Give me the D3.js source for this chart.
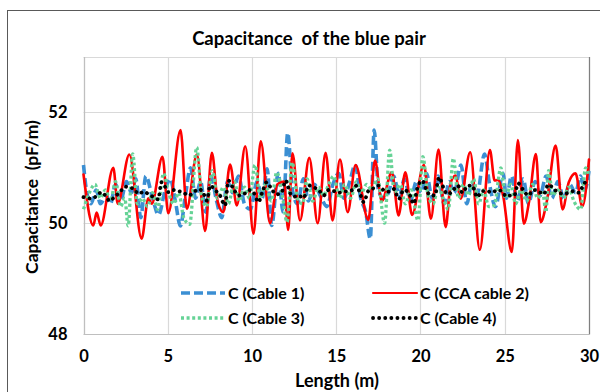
<!DOCTYPE html>
<html><head><meta charset="utf-8">
<script src="https://cdn.jsdelivr.net/npm/d3@7"></script>
<style>
html,body{margin:0;padding:0;background:#fff;}
text{font-family:Lato,"Open Sans",sans-serif;font-weight:bold;fill:#000;white-space:pre;}
</style></head>
<body>
<svg id="c" width="600" height="392"></svg>
<script>
const titleText = "Capacitance  of the blue pair";
const yTitle = "Capacitance  (pF/m)";
const xTitle = "Length (m)";
const xTicks = [0,5,10,15,20,25,30];
const yTicks = [48,50,52];
const seriesNames = ["C (Cable 1)","C (CCA cable 2)","C (Cable 3)","C (Cable 4)"];

// Cable 1 (blue dashed): [length m, capacitance pF/m]
const cable1 = [[0,51.05],[0.2,50.55],[0.45,50.35],[0.75,50.6],[1.0,50.35],[1.35,50.5],[1.6,50.35],[1.9,50.7],[2.2,50.4],[2.55,50.75],[2.85,50.55],[3.1,50.8],[3.4,50.1],[3.7,50.85],[4.1,50.45],[4.45,50.15],[4.85,50.6],[5.15,50.8],[5.45,50.4],[5.75,49.95],[6.05,50.5],[6.35,51.0],[6.65,50.45],[6.95,50.75],[7.25,50.2],[7.55,50.85],[7.9,50.4],[8.2,50.1],[8.55,50.75],[8.85,50.55],[9.2,50.85],[9.55,50.35],[9.9,50.25],[10.3,50.75],[10.6,50.45],[10.9,50.98],[11.17,49.96],[11.55,50.9],[11.85,50.2],[12.12,51.63],[12.4,50.6],[12.7,50.35],[13.05,50.8],[13.35,50.4],[13.7,50.7],[14.05,50.5],[14.45,50.3],[14.8,50.7],[15.15,50.9],[15.45,50.45],[15.8,50.75],[16.12,51.05],[16.45,50.45],[16.75,50.2],[17.02,49.72],[17.25,51.68],[17.5,50.6],[17.8,50.45],[18.1,50.55],[18.4,50.85],[18.75,50.5],[19.05,50.8],[19.4,50.4],[19.75,50.75],[20.05,50.55],[20.35,50.9],[20.7,50.45],[21.05,50.85],[21.4,50.35],[21.7,50.75],[22.0,50.55],[22.4,51.05],[22.75,50.35],[23.05,50.75],[23.35,50.5],[23.8,51.25],[24.1,50.7],[24.45,50.3],[24.9,50.9],[25.1,50.45],[25.4,50.85],[25.75,50.4],[26.1,50.8],[26.4,50.35],[26.8,50.75],[27.1,50.5],[27.45,50.85],[27.8,50.45],[28.15,50.75],[28.5,50.45],[28.85,50.7],[29.2,50.55],[29.5,50.85],[29.75,50.6],[30.0,50.95]];

// CCA cable 2 (red solid)
const cable2 = [[0,50.88],[0.58,49.96],[0.78,50.19],[1.02,49.96],[1.77,51.0],[2.03,50.35],[2.72,51.24],[3.45,49.72],[3.85,50.45],[4.05,50.35],[4.69,51.2],[5.03,50.18],[5.76,51.68],[6.13,50.26],[6.73,51.24],[7.22,49.86],[7.62,51.27],[7.97,50.38],[8.3,50.2],[8.7,51.06],[9.1,50.32],[9.6,51.39],[10.09,49.81],[10.52,51.48],[11.07,50.0],[11.5,50.7],[11.9,50.75],[12.15,49.88],[12.4,51.26],[12.85,50.05],[13.4,51.18],[13.9,50.0],[14.37,51.27],[14.78,50.05],[15.22,51.15],[15.68,50.2],[16.15,51.05],[16.9,50.06],[17.3,51.13],[17.7,50.4],[18.3,50.92],[18.7,50.14],[19.1,50.92],[19.5,50.15],[20.2,51.05],[20.62,50.08],[21.07,51.33],[21.49,49.93],[21.8,50.74],[22.08,50.86],[22.38,50.44],[22.95,51.28],[23.52,49.52],[24.12,51.32],[24.4,50.77],[24.6,50.78],[24.9,50.5],[25.42,49.48],[25.78,51.5],[26.13,49.99],[26.45,50.4],[26.85,51.25],[27.13,50.02],[27.5,50.4],[28.02,51.4],[28.43,50.25],[28.8,50.74],[29.2,50.9],[29.6,50.3],[30,51.15]];

// Cable 3 (green dotted)
const cable3 = [[0,50.25],[0.35,50.55],[0.68,50.7],[1.0,50.45],[1.3,50.6],[1.6,50.4],[1.9,50.75],[2.2,50.3],[2.45,50.45],[2.65,49.95],[2.92,51.25],[3.2,50.35],[3.5,50.45],[3.8,50.3],[4.1,50.55],[4.4,50.25],[4.75,50.9],[5.05,50.55],[5.35,50.35],[5.65,50.55],[5.95,50.1],[6.3,49.98],[6.72,51.37],[7.0,50.5],[7.3,50.3],[7.65,50.95],[7.95,50.45],[8.3,50.65],[8.6,50.35],[8.95,50.75],[9.25,50.4],[9.55,50.65],[9.85,50.45],[10.18,51.05],[10.5,50.45],[10.8,50.7],[11.15,50.4],[11.47,50.92],[11.8,50.5],[12.08,50.02],[12.38,51.1],[12.7,50.45],[13.0,50.35],[13.27,50.8],[13.6,50.4],[13.95,50.65],[14.25,50.5],[14.55,50.7],[14.85,50.85],[15.2,50.45],[15.5,50.7],[15.85,50.45],[16.2,50.75],[16.5,50.55],[16.8,50.7],[17.1,50.6],[17.45,50.8],[17.87,50.0],[18.17,51.32],[18.45,50.55],[18.8,50.7],[19.1,50.35],[19.45,50.6],[19.85,50.05],[20.14,51.2],[20.45,50.5],[20.75,50.35],[21.05,50.65],[21.35,50.45],[21.65,50.25],[21.95,51.17],[22.25,50.45],[22.55,50.7],[22.85,50.5],[23.15,50.8],[23.45,50.35],[23.75,50.6],[24.05,50.3],[24.37,50.32],[24.77,51.0],[25.05,50.45],[25.35,50.7],[25.65,50.35],[25.95,50.6],[26.3,50.4],[26.65,50.7],[26.95,50.45],[27.25,50.55],[27.45,50.2],[27.6,50.95],[27.85,50.5],[28.15,50.6],[28.5,50.45],[28.8,50.65],[29.1,50.4],[29.5,50.25],[29.8,51.0],[30.0,50.85]];

// Cable 4 (black round dots)
const cable4 = [[0,50.47],[0.3,50.45],[0.5,50.44],[0.8,50.5],[1.08,50.56],[1.3,50.5],[1.57,50.4],[1.85,50.48],[2.16,50.56],[2.46,50.66],[2.75,50.64],[3.0,50.62],[3.25,50.53],[3.6,50.57],[3.94,50.5],[4.2,50.47],[4.43,50.43],[4.63,50.74],[4.8,50.68],[5.03,50.56],[5.3,50.6],[5.6,50.58],[5.9,50.56],[6.24,50.5],[6.55,50.56],[6.83,50.62],[7.1,50.55],[7.32,50.41],[7.52,50.68],[7.8,50.6],[8.1,50.5],[8.4,50.32],[8.6,50.77],[8.9,50.62],[9.2,50.5],[9.5,50.52],[9.8,50.6],[10.1,50.55],[10.38,50.38],[10.6,50.55],[10.88,50.74],[11.15,50.62],[11.45,50.52],[11.75,50.55],[12.0,50.77],[12.25,50.55],[12.5,50.48],[12.77,50.5],[13.05,50.45],[13.37,50.68],[13.65,50.65],[13.95,50.6],[14.25,50.5],[14.55,50.6],[14.85,50.58],[15.15,50.55],[15.45,50.57],[15.75,50.58],[16.05,50.62],[16.2,50.68],[16.45,50.5],[16.63,50.38],[16.9,50.58],[17.2,50.63],[17.5,50.68],[17.8,50.6],[18.1,50.57],[18.4,50.62],[18.72,50.44],[19.0,50.6],[19.3,50.55],[19.6,50.35],[19.8,50.62],[20.1,50.77],[20.35,50.6],[20.6,50.5],[20.85,50.5],[21.1,50.83],[21.35,50.65],[21.6,50.52],[21.9,50.58],[22.2,50.68],[22.5,50.55],[22.8,50.68],[23.05,50.68],[23.37,50.47],[23.65,50.58],[23.95,50.58],[24.25,50.55],[24.55,50.6],[24.85,50.57],[25.1,50.48],[25.35,50.5],[25.56,50.5],[25.8,50.72],[26.1,50.6],[26.4,50.5],[26.7,50.6],[27.0,50.58],[27.3,50.52],[27.6,50.7],[27.9,50.62],[28.2,50.55],[28.5,50.53],[28.8,50.55],[29.1,50.58],[29.4,50.55],[29.65,50.68],[29.85,50.77],[30,50.8]];

const svg = d3.select("#c");
const pl = 83.5, pr = 589, pt = 57, pb = 334;
const x = d3.scaleLinear().domain([0,30]).range([pl,pr]);
const y = d3.scaleLinear().domain([48,53]).range([pb,pt]);

// outer chart border
svg.append("rect").attr("x",7.5).attr("y",10.5).attr("width",620).attr("height",420)
  .attr("fill","#fff").attr("stroke","#595959").attr("stroke-width",1);

// title
svg.append("text").attr("x",309).attr("y",45).attr("text-anchor","middle")
  .style("font-size","18.5px").text(titleText);

// gridlines
const g = svg.append("g");
g.selectAll("line.v").data(xTicks).join("line")
  .attr("x1",d=>Math.round(x(d))+0.5).attr("x2",d=>Math.round(x(d))+0.5)
  .attr("y1",pt).attr("y2",pb).attr("stroke","#d9d9d9").attr("stroke-width",1.2);
g.selectAll("line.h").data([50,52,53]).join("line")
  .attr("x1",pl).attr("x2",pr).attr("y1",d=>Math.round(y(d))+0.5).attr("y2",d=>Math.round(y(d))+0.5)
  .attr("stroke","#d9d9d9").attr("stroke-width",1.2);
// axes lines
svg.append("line").attr("x1",Math.round(pl)+0.5).attr("x2",Math.round(pl)+0.5).attr("y1",pt).attr("y2",pb+0.5)
  .attr("stroke","#bfbfbf").attr("stroke-width",1.2);
svg.append("line").attr("x1",pl).attr("x2",pr).attr("y1",pb+0.5).attr("y2",pb+0.5)
  .attr("stroke","#bfbfbf").attr("stroke-width",1.2);
svg.append("line").attr("x1",pr+0.5).attr("x2",pr+0.5).attr("y1",pt).attr("y2",pb+0.5)
  .attr("stroke","#7f7f7f").attr("stroke-width",1.2);

// axes via d3 axis
const xAxis = d3.axisBottom(x).tickValues(xTicks).tickSize(0).tickPadding(16).tickFormat(d3.format("d"));
const xg = svg.append("g").attr("transform",`translate(0,${pb})`).call(xAxis);
xg.select(".domain").remove();
xg.selectAll("text").style("font-size","16.5px").style("font-family","Lato, sans-serif").style("font-weight","bold");
const yAxis = d3.axisLeft(y).tickValues(yTicks).tickSize(0).tickPadding(16).tickFormat(d3.format("d"));
const yg = svg.append("g").attr("transform",`translate(${pl},0)`).call(yAxis);
yg.select(".domain").remove();
yg.selectAll("text").style("font-size","16.5px").style("font-family","Lato, sans-serif").style("font-weight","bold");

// axis titles
svg.append("text").attr("x",337).attr("y",387).attr("text-anchor","middle")
  .style("font-size","18px").text(xTitle);
svg.append("text").attr("transform","translate(38,197) rotate(-90)").attr("text-anchor","middle")
  .style("font-size","17.5px").text(yTitle);

// series
const line = d3.line().x(d=>x(d[0])).y(d=>y(d[1])).curve(d3.curveMonotoneX);
const styles = [
  {data:cable1, stroke:"#3b8fd3", width:3.6, dash:"9 4", cap:"butt"},
  {data:cable2, stroke:"#ff0000", width:2.6, dash:null, cap:"round"},
  {data:cable3, stroke:"#66d396", width:3.3, dash:"3 2.6", cap:"butt"},
  {data:cable4, stroke:"#000000", width:3.8, dash:"0.1 6", cap:"round"}
];
const sg = svg.append("g");
styles.forEach(s=>{
  sg.append("path").attr("d",line(s.data)).attr("fill","none").attr("stroke",s.stroke)
    .attr("stroke-width",s.width).attr("stroke-dasharray",s.dash).attr("stroke-linecap",s.cap)
    .attr("stroke-linejoin","round");
});

// legend
const legPos = [[181,293],[373,293],[181,318],[373,318]];
const lg = svg.append("g");
styles.forEach((s,i)=>{
  const [lx,ly] = legPos[i];
  lg.append("line").attr("x1",lx).attr("x2",lx+44).attr("y1",ly).attr("y2",ly)
    .attr("stroke",s.stroke).attr("stroke-width",i===1?2.2:s.width)
    .attr("stroke-dasharray",s.dash).attr("stroke-linecap",s.cap);
  lg.append("text").attr("x",lx+47).attr("y",ly+5.5).style("font-size","16px").text(seriesNames[i]);
});
</script>
</body></html>
